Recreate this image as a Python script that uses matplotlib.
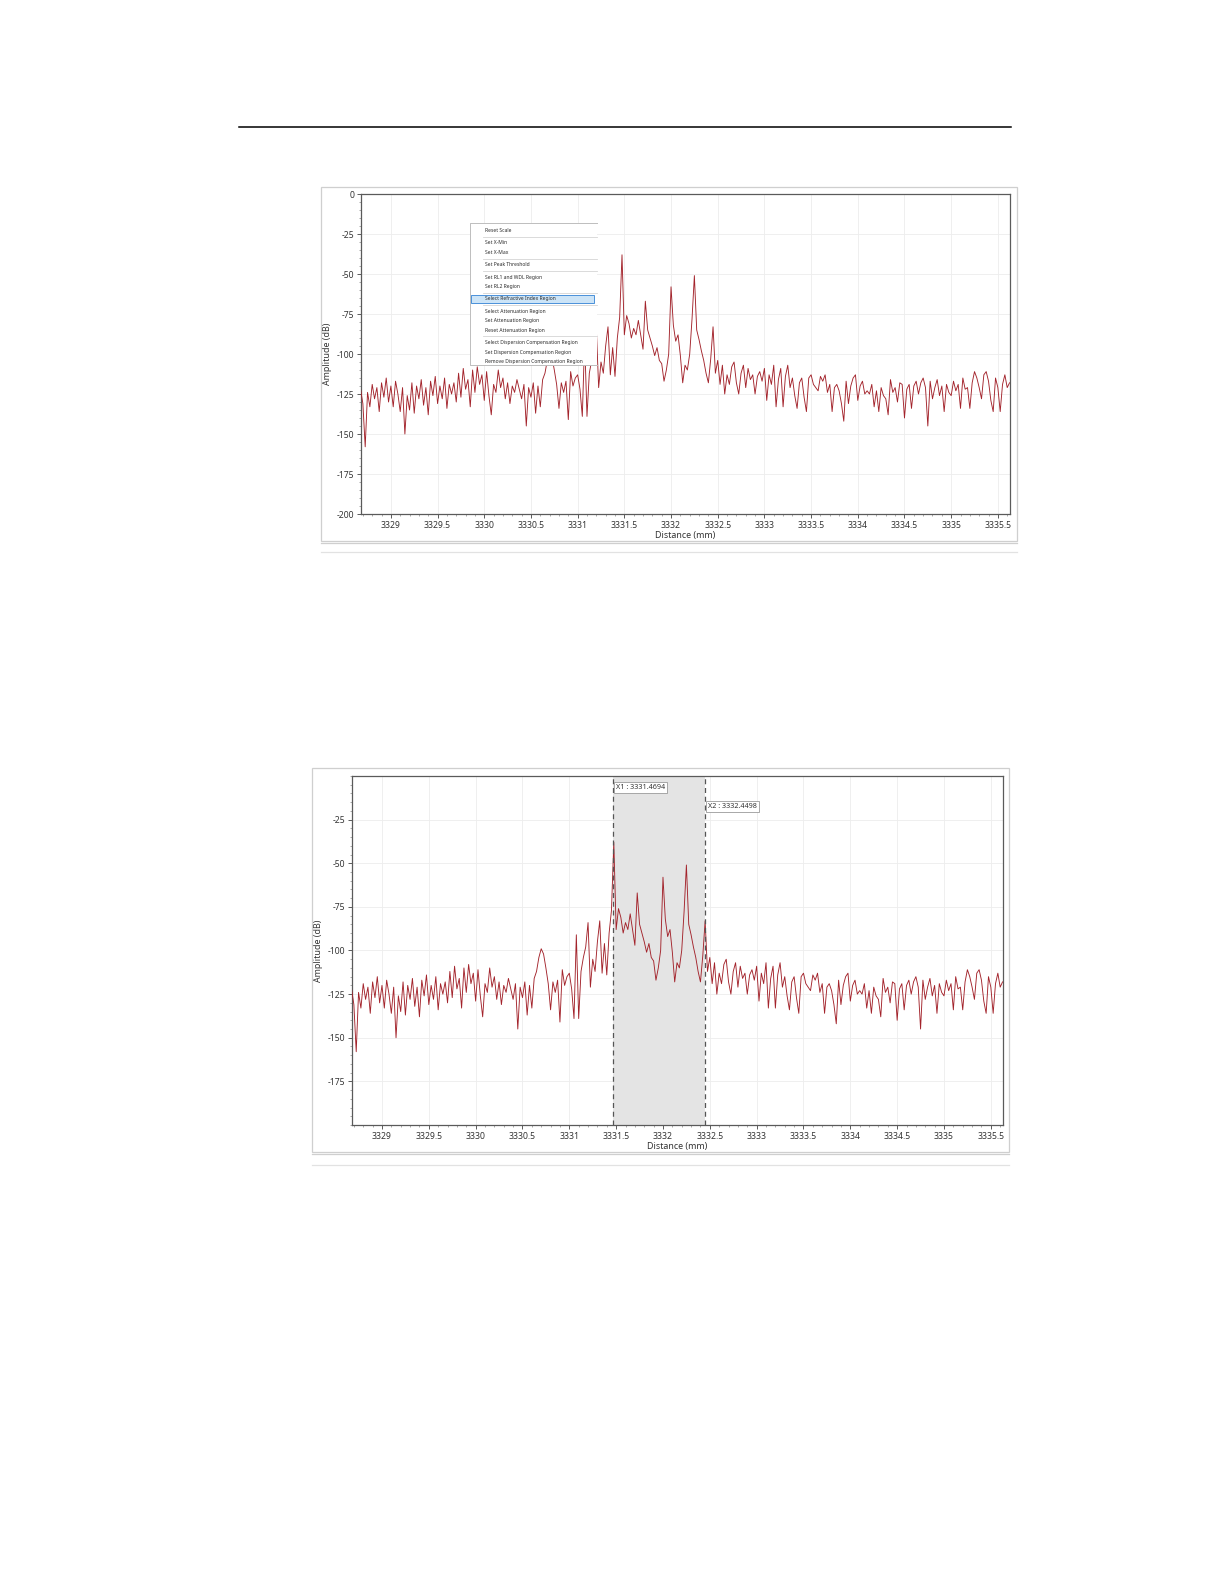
import numpy as np
import matplotlib
matplotlib.use("Agg")
import matplotlib.pyplot as plt
from matplotlib.patches import Rectangle
from matplotlib.ticker import MultipleLocator, FuncFormatter

plt.rcParams['font.family'] = ['Noto Sans', 'DejaVu Sans']
plt.rcParams['axes.unicode_minus'] = False

# ---- data ----
X_START = 3328.675   # mm, first sample
X_STEP = 0.025       # mm between samples
X1 = 3331.4694
X2 = 3332.4498

amp_a = [-122, -131, -158, -124, -133, -119, -128, -121, -136, -118,
         -127, -115, -130, -120, -133, -117, -125, -136, -121, -150,
         -126, -135, -118, -137, -120, -128, -116, -132, -121, -138,
         -117, -126, -114, -131, -120, -128, -115, -134, -119, -125]
amp_b = [-118, -130, -112, -127, -109, -122, -116, -133, -110, -124,
         -108, -119, -113, -129, -111, -126, -138, -119, -124, -110,
         -121, -115, -128, -118, -131, -120, -124, -116, -122, -128,
         -119, -145, -121, -127, -118, -137, -120, -133, -116, -112]
amp_c = [-104, -99, -102, -110, -119, -134, -118, -124, -117, -141,
         -111, -120, -115, -113, -122, -139, -91, -139, -112, -104,
         -98, -84, -121, -105, -112, -95, -83, -113, -96, -114,
         -90, -77, -38, -88, -76, -81, -90, -84, -88, -79]
amp_d = [-88, -97, -67, -85, -90, -95, -101, -96, -104, -106,
         -117, -110, -100, -58, -82, -92, -88, -101, -118, -107,
         -110, -100, -78, -51, -85, -91, -98, -104, -112, -118,
         -103, -83, -112, -104, -119, -107, -125, -113, -119, -108]
amp_e = [-105, -118, -125, -112, -107, -121, -109, -116, -113, -125,
         -114, -111, -117, -109, -129, -113, -119, -107, -133, -116,
         -109, -133, -114, -107, -121, -115, -126, -134, -118, -115,
         -127, -136, -115, -113, -119, -121, -123, -114, -117, -113]
amp_f = [-124, -119, -136, -121, -119, -123, -131, -142, -117, -131,
         -120, -115, -113, -129, -120, -117, -125, -123, -125, -119,
         -133, -123, -136, -121, -126, -128, -138, -116, -124, -121,
         -130, -118, -119, -140, -122, -119, -134, -120, -117, -125]
amp_g = [-118, -115, -121, -145, -117, -128, -121, -116, -126, -120,
         -136, -119, -124, -126, -117, -123, -119, -134, -115, -122,
         -121, -134, -118, -111, -115, -121, -128, -113, -111, -117,
         -129, -136, -115, -121, -136, -119, -113, -121, -118]

amp = np.array(amp_a + amp_b + amp_c + amp_d + amp_e + amp_f + amp_g)
dist = X_START + X_STEP * np.arange(len(amp))

menu_items = [
    ["Reset Scale"],
    ["Set X-Min", "Set X-Max"],
    ["Set Peak Threshold"],
    ["Set RL1 and WDL Region", "Set RL2 Region"],
    ["Select Refractive Index Region"],
    ["Select Attenuation Region", "Set Attenuation Region", "Reset Attenuation Region"],
    ["Select Dispersion Compensation Region", "Set Dispersion Compensation Region",
     "Remove Dispersion Compensation Region"],
]

# ---- page ----
W, H = 1224, 1584
fig = plt.figure(figsize=(W / 100, H / 100), dpi=100)
fig.patch.set_facecolor('white')

LINE_C = '#a3232b'
GRID_C = '#ededed'
SPINE_C = '#5a5a5a'
TXT_C = '#333333'


def px_axes(l, t, r, b, z=1):
    return fig.add_axes([l / W, 1 - b / H, (r - l) / W, (b - t) / H], zorder=z)


def style_chart(ax, yticks):
    ax.plot(dist, amp, color=LINE_C, lw=0.65, zorder=3)
    ax.set_xlim(3328.68, 3335.63)
    ax.set_ylim(-200, 0)
    ax.xaxis.set_major_locator(MultipleLocator(0.5))
    ax.xaxis.set_minor_locator(MultipleLocator(0.1))
    ax.set_yticks(yticks)
    ax.yaxis.set_minor_locator(MultipleLocator(5))
    ax.xaxis.set_major_formatter(FuncFormatter(lambda v, p: '%g' % v))
    ax.yaxis.set_major_formatter(FuncFormatter(lambda v, p: '%g' % v))
    ax.tick_params(which='major', length=3, width=0.7, color=SPINE_C,
                   labelsize=6.2, labelcolor=TXT_C, pad=2)
    ax.tick_params(which='minor', length=1.5, width=0.5, color='#888888')
    ax.grid(True, which='major', color=GRID_C, lw=0.6)
    ax.set_axisbelow(True)
    for s in ax.spines.values():
        s.set_color(SPINE_C)
        s.set_linewidth(0.9)
    ax.set_xlabel('Distance (mm)', fontsize=6.4, color=TXT_C, labelpad=1)
    ax.set_ylabel('Amplitude (dB)', fontsize=6.4, color=TXT_C, labelpad=3)


# top chart
ax1 = px_axes(361, 194, 1010, 514)
style_chart(ax1, np.arange(-200, 1, 25))

# bottom chart
ax2 = px_axes(352, 776, 1003, 1125)
style_chart(ax2, np.arange(-175, -24, 25))
ax2.axvspan(X1, X2, color='#e4e4e4', zorder=1, lw=0)
for xv in (X1, X2):
    ax2.axvline(xv, color='#555555', lw=0.9, ls=(0, (4, 3)), zorder=4)
ax2.text(X1 + 0.03, -6.5, 'X1 : %.4f' % X1, fontsize=5.2, color=TXT_C, va='center', ha='left',
         zorder=5, bbox=dict(boxstyle='square,pad=0.25', fc='white', ec='#9a9a9a', lw=0.6))
ax2.text(X2 + 0.03, -17.5, 'X2 : %.4f' % X2, fontsize=5.2, color=TXT_C, va='center', ha='left',
         zorder=5, bbox=dict(boxstyle='square,pad=0.25', fc='white', ec='#9a9a9a', lw=0.6))

# overlay in page pixels: rule, screenshot frames, context menu
ov = px_axes(0, 0, W, H, z=10)
ov.set_xlim(0, W)
ov.set_ylim(H, 0)
ov.axis('off')
ov.patch.set_alpha(0)

ov.plot([239, 1011], [127, 127], color='black', lw=1.1)

FRAME_C = '#cfcfcf'
ov.add_patch(Rectangle((321, 187), 696, 354, fill=False, ec=FRAME_C, lw=0.9))
ov.plot([321, 1017], [543, 543], color=FRAME_C, lw=0.9)
ov.plot([321, 1017], [552, 552], color='#e2e2e2', lw=0.9)
ov.add_patch(Rectangle((312, 768), 697, 384, fill=False, ec=FRAME_C, lw=0.9))
ov.plot([312, 1009], [1154, 1154], color=FRAME_C, lw=0.9)
ov.plot([312, 1009], [1165, 1165], color='#e2e2e2', lw=0.9)

# context menu
mx0, mx1, my0, my1 = 470, 597, 223, 365
ov.add_patch(Rectangle((mx0, my0), mx1 - mx0, my1 - my0, fc='white', ec='none', zorder=5))
ov.plot([mx1, mx0, mx0, mx1], [my0, my0, my1, my1], color='#bdbdbd', lw=0.7, zorder=6)
row_h = 9.6
sep_h = 2.6
y = my0 + 3
for gi, group in enumerate(menu_items):
    for item in group:
        yc = y + row_h / 2
        if item.startswith('Select Refractive'):
            ov.add_patch(Rectangle((mx0 + 1, y + 0.5), mx1 - mx0 - 4, row_h - 1,
                                   fc='#cce4f7', ec='#4a90d9', lw=0.7, zorder=6))
        ov.text(mx0 + 15, yc, item, fontsize=3.6, color='#2b2b2b', va='center', ha='left', zorder=7)
        y += row_h
    if gi < len(menu_items) - 1:
        ov.plot([mx0 + 13, mx1], [y + sep_h / 2, y + sep_h / 2], color='#d5d5d5', lw=0.6, zorder=6)
        y += sep_h

fig.savefig('out.png', dpi=100, facecolor='white')
